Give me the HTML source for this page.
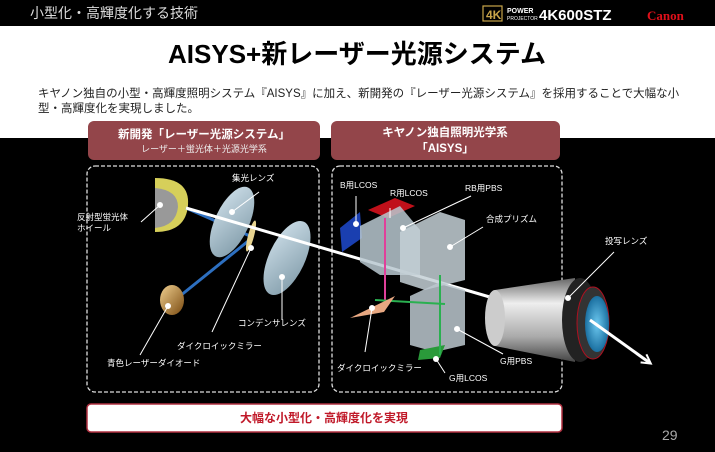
<!DOCTYPE html>
<html><head><meta charset="utf-8"><style>
body{margin:0;width:715px;height:447px;overflow:hidden;background:#000;font-family:"Liberation Sans","Noto Sans CJK JP",sans-serif;}
</style></head><body>
<svg width="715" height="447" viewBox="0 0 715 447" xmlns="http://www.w3.org/2000/svg" font-family="Liberation Sans, Noto Sans CJK JP, sans-serif">
<defs>
<linearGradient id="cyl" x1="0" y1="0" x2="0" y2="1"><stop offset="0" stop-color="#666"/><stop offset="0.3" stop-color="#eee"/><stop offset="0.7" stop-color="#aaa"/><stop offset="1" stop-color="#444"/></linearGradient>
<linearGradient id="lens" x1="0" y1="0" x2="1" y2="1"><stop offset="0" stop-color="#cfe0ea"/><stop offset="1" stop-color="#7f9aa8"/></linearGradient>
<radialGradient id="face"><stop offset="0" stop-color="#6cc8f0"/><stop offset="1" stop-color="#1a6fa0"/></radialGradient>
<linearGradient id="gold" x1="0" y1="0" x2="1" y2="1"><stop offset="0" stop-color="#f0d090"/><stop offset="1" stop-color="#7a4a10"/></linearGradient>
<marker id="ar" markerUnits="userSpaceOnUse" markerWidth="12" markerHeight="12" refX="9" refY="6" orient="auto"><path d="M1,1 L10,6 L1,11" fill="none" stroke="#fff" stroke-width="2"/></marker>
</defs>
<rect x="0" y="26" width="715" height="112" fill="#fff"/>
<text x="30" y="18" fill="#ddd" font-size="14">小型化・高輝度化する技術</text>
<rect x="483" y="6" width="19" height="15" fill="none" stroke="#c9a54a" stroke-width="1.2"/>
<text x="486" y="19" fill="#c9a54a" font-size="12" font-weight="bold">4K</text>
<text x="507" y="13" fill="#fff" font-size="7" font-weight="bold">POWER</text>
<text x="507" y="20" fill="#fff" font-size="5">PROJECTOR</text>
<text x="539" y="20" fill="#fff" font-size="15" font-weight="bold">4K600STZ</text>
<text x="647" y="20" fill="#e0101a" font-size="13" font-weight="bold" font-family="Liberation Serif, serif">Canon</text>
<text x="357" y="63" fill="#000" font-size="26" font-weight="bold" text-anchor="middle">AISYS+新レーザー光源システム</text>
<text x="38" y="97" fill="#222" font-size="11.5">キヤノン独自の小型・高輝度照明システム『AISYS』に加え、新開発の『レーザー光源システム』を採用することで大幅な小</text>
<text x="38" y="112" fill="#222" font-size="11.5">型・高輝度化を実現しました。</text>
<rect x="88" y="121" width="232" height="39" rx="6" fill="#93454a"/>
<text x="204" y="138" fill="#fff" font-size="11.5" font-weight="bold" text-anchor="middle">新開発「レーザー光源システム」</text>
<text x="204" y="152" fill="#eee" font-size="9" text-anchor="middle">レーザー＋蛍光体＋光源光学系</text>
<rect x="331" y="121" width="229" height="39" rx="6" fill="#93454a"/>
<text x="445" y="136" fill="#fff" font-size="11.5" font-weight="bold" text-anchor="middle">キヤノン独自照明光学系</text>
<text x="445" y="152" fill="#fff" font-size="11.5" font-weight="bold" text-anchor="middle">「AISYS」</text>
<rect x="87" y="166" width="232" height="226" rx="8" fill="none" stroke="#ddd" stroke-width="1.3" stroke-dasharray="4,2"/>
<rect x="332" y="166" width="230" height="226" rx="8" fill="none" stroke="#ddd" stroke-width="1.3" stroke-dasharray="4,2"/>
<!-- left components -->
<path d="M155,178 Q190,178 188,205 Q186,232 155,232 Z" fill="#d6cf5a"/>
<path d="M155,188 Q178,190 178,207 Q176,226 155,228 Z" fill="#999"/>
<line x1="180" y1="296" x2="252" y2="238" stroke="#2d6fc0" stroke-width="3"/>
<line x1="186" y1="208" x2="250" y2="236" stroke="#2d6fc0" stroke-width="3"/>
<ellipse cx="232" cy="222" rx="17" ry="38" transform="rotate(25 232 222)" fill="url(#lens)"/>
<ellipse cx="287" cy="258" rx="18" ry="40" transform="rotate(25 287 258)" fill="url(#lens)"/>
<ellipse cx="251" cy="236" rx="3" ry="16" transform="rotate(15 251 236)" fill="#e8d490"/>
<ellipse cx="172" cy="300" rx="12" ry="15" fill="url(#gold)"/>
<line x1="186" y1="208" x2="500" y2="300" stroke="#fff" stroke-width="3"/>
<!-- right components -->
<polygon points="340,228 360,212 362,238 342,252" fill="#1a3fb0"/>
<polygon points="368,210 395,198 415,206 388,218" fill="#c0101a"/>
<polygon points="360,226 400,206 420,230 420,275 380,275 360,262" fill="#b8c8d0" opacity="0.85"/>
<polygon points="400,232 440,212 465,220 465,280 425,290 400,282" fill="#c4d0d6" opacity="0.85"/>
<polygon points="410,296 440,282 465,290 465,345 435,352 410,345" fill="#bcc8cf" opacity="0.85"/>
<polygon points="420,350 445,345 440,358 418,360" fill="#2a9a3a"/>
<line x1="385" y1="218" x2="385" y2="300" stroke="#e0409a" stroke-width="2"/>
<line x1="375" y1="300" x2="445" y2="304" stroke="#2ab050" stroke-width="2"/>
<line x1="440" y1="275" x2="440" y2="355" stroke="#2ab050" stroke-width="2"/>
<polygon points="350,318 395,296 384,312" fill="#e8a882"/>
<polygon points="495,290 575,278 575,362 495,346" fill="url(#cyl)"/>
<ellipse cx="495" cy="318" rx="10" ry="28" fill="#ccc"/>
<ellipse cx="580" cy="320" rx="18" ry="42" fill="#222"/>
<ellipse cx="593" cy="323" rx="16" ry="36" fill="#333" stroke="#b01020"/>
<ellipse cx="597" cy="324" rx="12" ry="28" fill="url(#face)"/>
<line x1="590" y1="320" x2="650" y2="363" stroke="#fff" stroke-width="3" marker-end="url(#ar)"/>
<!-- leaders -->
<g stroke="#fff" stroke-width="1" fill="#fff">
<line x1="141" y1="222" x2="160" y2="205"/><circle cx="160" cy="205" r="2.5"/>
<line x1="259" y1="192" x2="232" y2="212"/><circle cx="232" cy="212" r="2.5"/>
<line x1="282" y1="320" x2="282" y2="277"/><circle cx="282" cy="277" r="2.5"/>
<line x1="212" y1="332" x2="251" y2="248"/><circle cx="251" cy="248" r="2.5"/>
<line x1="140" y1="355" x2="168" y2="306"/><circle cx="168" cy="306" r="2.5"/>
<line x1="356" y1="196" x2="356" y2="224"/><circle cx="356" cy="224" r="2.5"/>
<line x1="390" y1="208" x2="390" y2="218"/>
<line x1="471" y1="196" x2="403" y2="228"/><circle cx="403" cy="228" r="2.5"/>
<line x1="483" y1="227" x2="450" y2="247"/><circle cx="450" cy="247" r="2.5"/>
<line x1="365" y1="352" x2="372" y2="308"/><circle cx="372" cy="308" r="2.5"/>
<line x1="503" y1="354" x2="457" y2="329"/><circle cx="457" cy="329" r="2.5"/>
<line x1="445" y1="373" x2="436" y2="359"/><circle cx="436" cy="359" r="2.5"/>
<line x1="614" y1="252" x2="568" y2="298"/><circle cx="568" cy="298" r="2.5"/>
</g>
<g fill="#fff" font-size="8.5">
<text x="232" y="181">集光レンズ</text>
<text x="77" y="220">反射型蛍光体</text>
<text x="77" y="231">ホイール</text>
<text x="238" y="326">コンデンサレンズ</text>
<text x="177" y="349">ダイクロイックミラー</text>
<text x="107" y="366">青色レーザーダイオード</text>
<text x="340" y="188">B用LCOS</text>
<text x="390" y="196">R用LCOS</text>
<text x="465" y="191">RB用PBS</text>
<text x="486" y="222">合成プリズム</text>
<text x="605" y="244">投写レンズ</text>
<text x="337" y="371">ダイクロイックミラー</text>
<text x="500" y="364">G用PBS</text>
<text x="449" y="381">G用LCOS</text>
</g>
<rect x="87" y="404" width="475" height="28" rx="4" fill="#fff" stroke="#b03040" stroke-width="1.5"/>
<text x="324" y="422" fill="#c01828" font-size="12" font-weight="bold" text-anchor="middle">大幅な小型化・高輝度化を実現</text>
<text x="662" y="440" fill="#aaa" font-size="14">29</text>
</svg>
</body></html>
